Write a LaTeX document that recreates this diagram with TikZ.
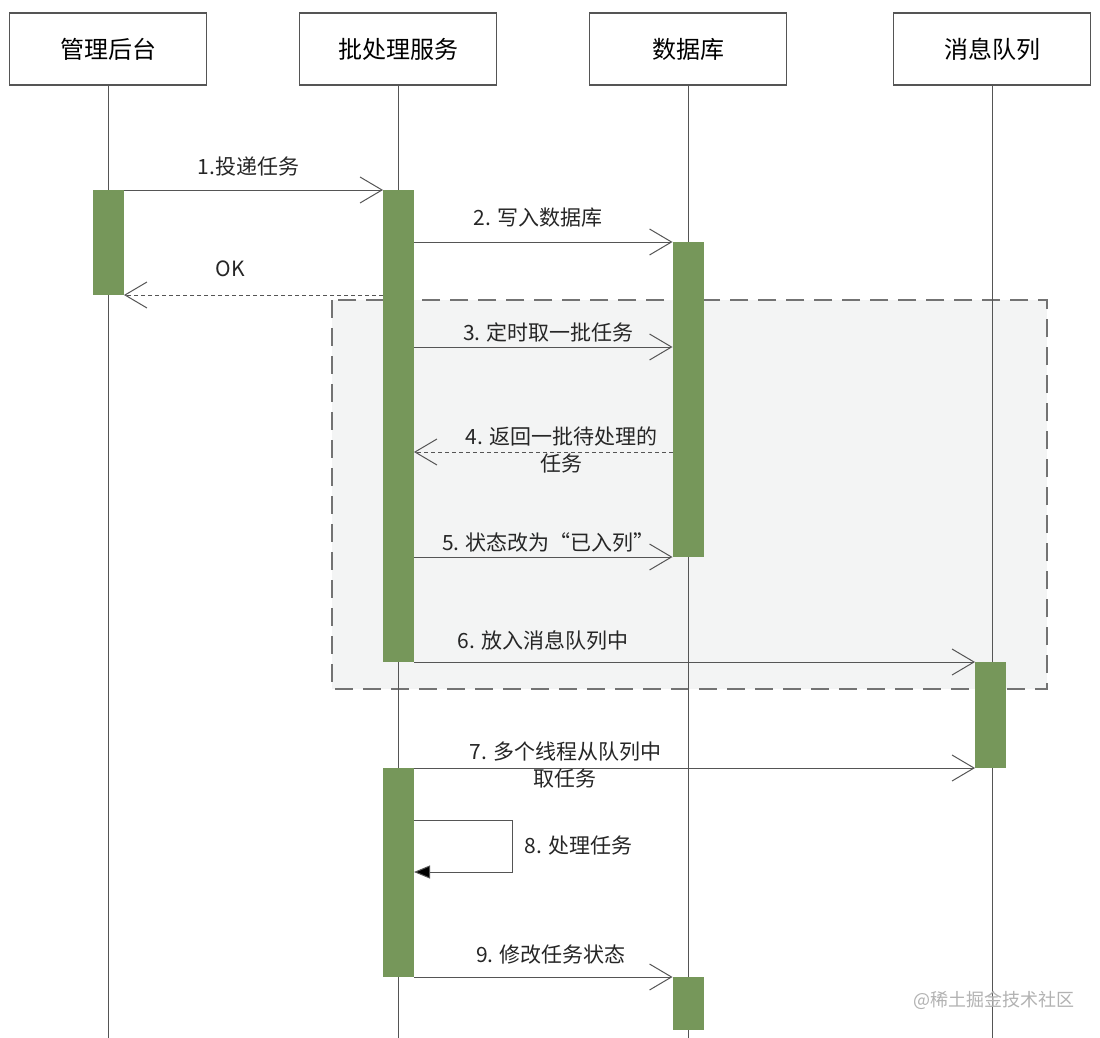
\documentclass[tikz,border=0pt]{standalone}
\usepackage{fontspec}
\newfontfamily\cjk{Noto Sans CJK SC}
\usetikzlibrary{arrows.meta}

\definecolor{bargreen}{HTML}{76975A}
\definecolor{linegray}{HTML}{555555}
\definecolor{framefill}{HTML}{F3F4F4}

\begin{document}
\begin{tikzpicture}[x=1pt,y=-1pt,
    head/.style={draw=linegray,line width=1.1pt,minimum width=197pt,minimum height=72pt,
      font=\cjk\fontsize{24}{28}\selectfont},
    bar/.style={fill=bargreen,inner sep=0pt,outer sep=0pt,minimum width=31pt,anchor=north},
    life/.style={linegray,line width=1pt},
    msg/.style={draw=linegray,line width=1pt,-{Straight Barb[length=22pt,width=26pt]}},
    reply/.style={msg,dash pattern=on 4pt off 3pt},
    lbl/.style={font=\cjk\fontsize{21}{27}\selectfont,text=black!85,align=center}]

      \useasboundingbox (0,0) rectangle (1100,1038);
      \fill[white] (0,0) rectangle (1100,1038);

      % loop frame
      \draw[draw=gray!90!black,line width=1.2pt,dash pattern=on 18pt off 10pt,fill=framefill]
        (332,300) rectangle (1047,689);

      \coordinate (bottom) at (0,1038);

      \begin{scope}[every node/.style={head}]
        \node (h1) at (108,49)  {管理后台};
        \node (h2) at (398,49)  {批处理服务};
        \node (h3) at (688,49)  {数据库};
        \node (h4) at (992,49)  {消息队列};
      \end{scope}

      \draw[life] (h1.south) -- (h1.south |- bottom);
      \draw[life] (h2.south) -- (h2.south |- bottom);
      \draw[life] (h3.south) -- (h3.south |- bottom);
      \draw[life] (h4.south) -- (h4.south |- bottom);

      \begin{scope}[every node/.style={bar}]
        \node[minimum height=105pt] (A1) at (108.5,190) {};
        \node[minimum height=472pt] (B1) at (398.5,190) {};
        \node[minimum height=315pt] (C1) at (688,242)   {};
        \node[minimum height=106pt] (D1) at (990.5,662) {};
        \node[minimum height=209pt] (B2) at (398.5,768) {};
        \node[minimum height=53pt]  (C2) at (688,977)   {};
      \end{scope}

      % message rows
      \coordinate (m3) at (0,347);
      \coordinate (m4) at (0,452);
      \coordinate (s8) at (512,820);
      \coordinate (s8b) at (512,872);

      \begin{scope}[every node/.style={lbl}]
        \path (A1.north east) edge[msg] node[pos=0.48,yshift=23pt] {1.投递任务} (B1.north west);
        \path (B1.east |- C1.north) edge[msg] node[pos=0.48,yshift=24pt] {2. 写入数据库} (C1.north west);
        \path (B1.west |- A1.south) edge[reply] node[pos=0.59,yshift=26pt] {OK} (A1.south east);
        \path (B1.east |- m3) edge[msg] node[pos=0.52,yshift=15pt] {3. 定时取一批任务} (C1.west |- m3);
        \path (C1.west |- m4) edge[reply] node[pos=0.43,yshift=2pt] {4. 返回一批待处理的\\任务} (B1.east |- m4);
        \path (B1.east |- C1.south) edge[msg] node[pos=0.52,yshift=15pt] {5. 状态改为“已入列”} (C1.south west);
        \path (B1.south east) edge[msg] node[pos=0.23,yshift=22pt] {6. 放入消息队列中} (D1.north west);
        \path (B2.north east) edge[msg] node[pos=0.27,yshift=3pt] {7. 多个线程从队列中\\取任务} (D1.south west);
        \draw[linegray,line width=1pt,-{Triangle[length=16pt,width=13pt,fill=black]}]
          (B2.east |- s8) -- (s8) -- node[right=9pt] {8. 处理任务} (s8b) -- (B2.east |- s8b);
        \path (B2.south east) edge[msg] node[pos=0.53,yshift=22pt] {9. 修改任务状态} (C2.north west);
      \end{scope}

      \node[font=\cjk\fontsize{18}{20}\selectfont,text=black!30,anchor=west] (wm) at (910,1000) {@稀土掘金技术社区};

    \end{tikzpicture}
\end{document}
